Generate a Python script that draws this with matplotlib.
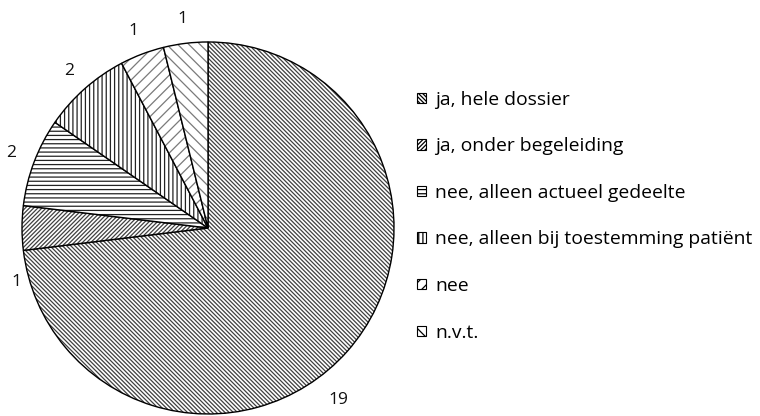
import matplotlib.pyplot as plt
from matplotlib.colors import to_rgba

labels = ['ja, hele dossier', 'ja, onder begeleiding', 'nee, alleen actueel gedeelte',
          'nee, alleen bij toestemming patiënt', 'nee', 'n.v.t.']
values = [19, 1, 2, 2, 1, 1]
hatches = ['\\' * 8, '/' * 8, '----', '||||', '///', '\\\\\\']
hatch_cols = ['#404040', '#404040', '#222222', '#222222', '#7a7a7a', '#7a7a7a']

plt.rcParams['font.family'] = ['Open Sans', 'DejaVu Sans']
plt.rcParams['hatch.linewidth'] = 0.9

fig = plt.figure(figsize=(7.6, 4.16), dpi=100)
lim = 1.2
ax = fig.add_axes([-0.02, -0.0846, 0.5874, 1.0731])

wedges, texts = ax.pie(values, startangle=90, counterclock=False,
                       labels=[str(v) for v in values], labeldistance=1.13,
                       colors=['white'] * len(values),
                       wedgeprops=dict(edgecolor='black', linewidth=1.0),
                       textprops=dict(fontsize=12.5, color='#111111'))
for w, h, c in zip(wedges, hatches, hatch_cols):
    w.set_hatch(h)
    w._hatch_color = to_rgba(c)

# the two labels that Excel placed off the slice middle
texts[0].set_position((0.70, -0.925))
texts[1].set_position((-1.03, -0.29))
for t in texts:
    t.set_ha('center')
    t.set_va('center')

ax.set_xlim(-lim, lim)
ax.set_ylim(-lim, lim)
ax.set_aspect('equal')

leg = fig.legend(wedges, labels, loc='upper left', bbox_to_anchor=(0.549, 0.782),
                 frameon=False, fontsize=13.9, handlelength=0.44, handleheight=0.44,
                 handletextpad=0.48, labelspacing=1.48, borderpad=0, borderaxespad=0)
for p in leg.get_patches():
    p.set_linewidth(0.8)
    p.set_edgecolor('black')

plt.savefig('out.png', dpi=100)
